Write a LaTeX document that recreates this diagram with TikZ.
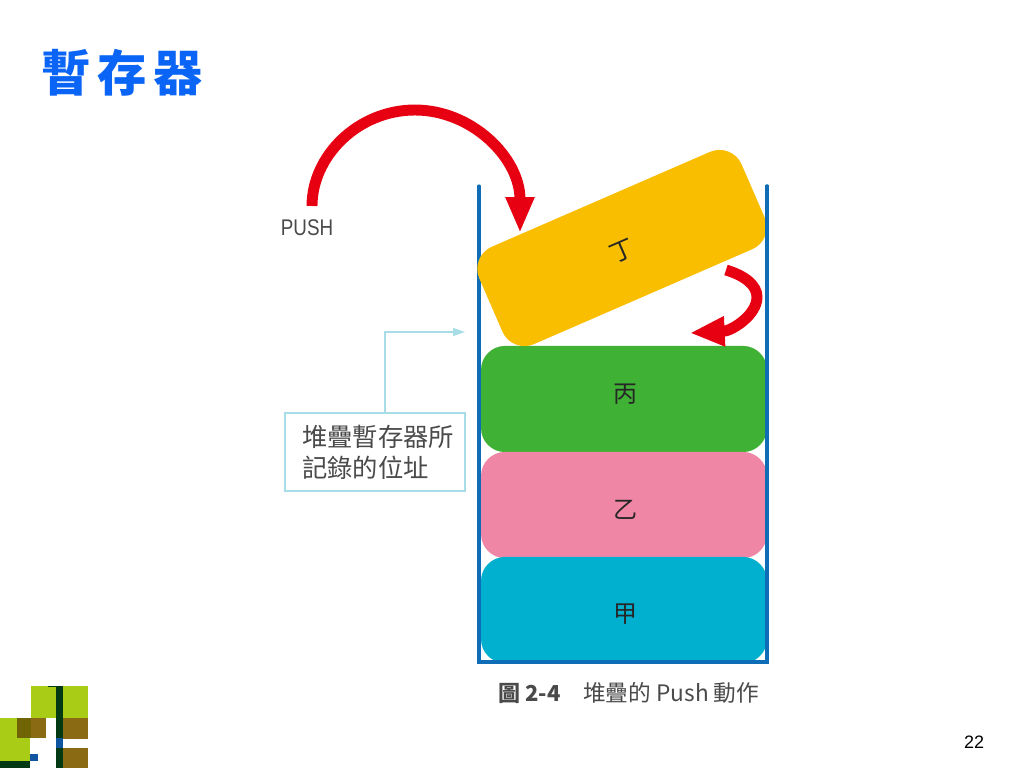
\documentclass[tikz,border=0pt]{standalone}
\usepackage{fontspec}
\setmainfont{Liberation Sans}
\newfontfamily\cjk{Noto Sans CJK TC}
\usetikzlibrary{arrows.meta}
\definecolor{redarrow}{HTML}{E60012}
\definecolor{yellowblock}{HTML}{F9BE00}
\definecolor{greenblock}{HTML}{3FB135}
\definecolor{pinkblock}{HTML}{EF86A6}
\definecolor{cyanblock}{HTML}{00B0CE}
\definecolor{wallblue}{HTML}{0F6DB8}
\definecolor{notecolor}{HTML}{A8DCE6}
\definecolor{titleblue}{HTML}{0A64F5}
\definecolor{inkgray}{HTML}{4A4A4A}
\definecolor{lime}{HTML}{A9CC17}
\definecolor{darkgreenbar}{HTML}{033A14}
\definecolor{olive}{HTML}{716405}
\definecolor{brownbar}{HTML}{8A6A12}
\definecolor{bluebar}{HTML}{0F55A0}
\tikzset{
  stackblock/.style={rounded corners=18pt,minimum width=214.5pt,minimum height=79.6pt,inner sep=0pt},
  blocklabel/.style={font=\cjk\fontsize{18}{20}\selectfont,text=black!85,inner sep=0pt},
  wall/.style={draw=wallblue,line width=2.3pt,line cap=round,line join=miter},
  redflow/.style={draw=redarrow,line width=8.2pt},
  notebox/.style={draw=notecolor,line width=1.2pt,minimum width=135pt,minimum height=58.5pt,inner sep=0pt},
  notetext/.style={font=\cjk\fontsize{19}{23.2}\selectfont,text=inkgray,align=left,inner sep=0pt,anchor=north west},
  notearrow/.style={draw=notecolor,line width=1.1pt,-{Triangle[length=9pt,width=6pt]}},
  captiontext/.style={font=\cjk\fontsize{17}{20}\selectfont,text=inkgray,inner sep=0pt}
}
\begin{document}
\begin{tikzpicture}[x=0.75pt,y=-0.75pt]
\useasboundingbox (0,0) rectangle (1024,768);
\fill[white] (0,0) rectangle (1024,768);

% logo
\fill[lime] (31,686) rectangle (56,718);
\fill[lime] (63,686) rectangle (88,718);
\fill[lime] (0,718) rectangle (17,738);
\fill[lime] (0,738) rectangle (30,761);
\fill[olive] (17,718) rectangle (31,738);
\fill[brownbar] (31,718) rectangle (46,738);
\fill[brownbar] (63,718) rectangle (88,738.5);
\fill[brownbar] (63,747.5) rectangle (88,768);
\fill[darkgreenbar] (0,761) rectangle (30,768);
\fill[darkgreenbar] (56,686) rectangle (63,768);
\fill[darkgreenbar] (48,686) rectangle (56,687);
\fill[bluebar] (56,738) rectangle (63,748);
\fill[bluebar] (30,754) rectangle (38,761);

% title and page number
\node[font=\cjk\bfseries\fontsize{37}{40}\selectfont,text=titleblue,inner sep=0pt] (title) at (122,73) {暫\hspace{5pt}存\hspace{5pt}器};
\node[font=\fontsize{13.5}{15}\selectfont,inner sep=0pt] (pageno) at (974,742) {22};

% stack
\node[stackblock,fill=greenblock] (bing) at (624,399) {};
\node[stackblock,fill=pinkblock] (yi) at (624,505) {};
\node[stackblock,fill=cyanblock] (jia) at (624,610) {};
\coordinate (wallLT) at (479,186);
\coordinate (wallLB) at (479,662);
\coordinate (wallRB) at (767,662);
\coordinate (wallRT) at (767,186);
\draw[wall] (wallLT) -- (wallLB) -- (wallRB) -- (wallRT);
\node[stackblock,fill=yellowblock,rotate=23.5] (ding) at (622,248) {};
\draw[wall] (767,186) -- (767,250);
\node[blocklabel,rotate=23.5] (dinglabel) at (622,251) {丁};
\node[blocklabel] (binglabel) at (625,394) {丙};
\node[blocklabel] (yilabel) at (625,510) {乙};
\node[blocklabel] (jialabel) at (625,614) {甲};

% push label and arrows
\node[font=\fontsize{17}{18}\selectfont,text=inkgray,inner sep=0pt,xscale=.83] (push) at (307,228) {PUSH};
\coordinate (pushstart) at (312,206);
\coordinate (pushtop) at (415,110);
\coordinate (pushend) at (520,233);
\draw[redflow,-{Triangle[length=27pt,width=20pt]}] (pushstart) .. controls (312,156) and (358,110) .. (pushtop) .. controls (472,110) and (520,158) .. (pushend);
\coordinate (dropstart) at (726,270);
\coordinate (dropmid) at (757,297);
\coordinate (dropend) at (690,333);
\draw[redflow,-{Triangle[length=26pt,width=21pt]}] (dropstart) .. controls (746,276) and (757,286) .. (dropmid) .. controls (757,315) and (732,331) .. (dropend);

% note
\node[notebox] (note) at (375,452) {};
\node[notetext] (notelabel) at (302,425) {堆疊暫存器所\\記錄的位址};
\coordinate (notefoot) at (385,413);
\coordinate (notetarget) at (465,332);
\draw[notearrow] (notefoot) |- (notetarget);

% caption
\node[font=\cjk\bfseries\fontsize{16.5}{20}\selectfont,text=inkgray,inner sep=0pt,anchor=west] (captionnum) at (498,693) {圖 2-4};
\node[captiontext,anchor=west] (captionbody) at (583,693) {堆疊的 Push 動作};
\end{tikzpicture}
\end{document}
